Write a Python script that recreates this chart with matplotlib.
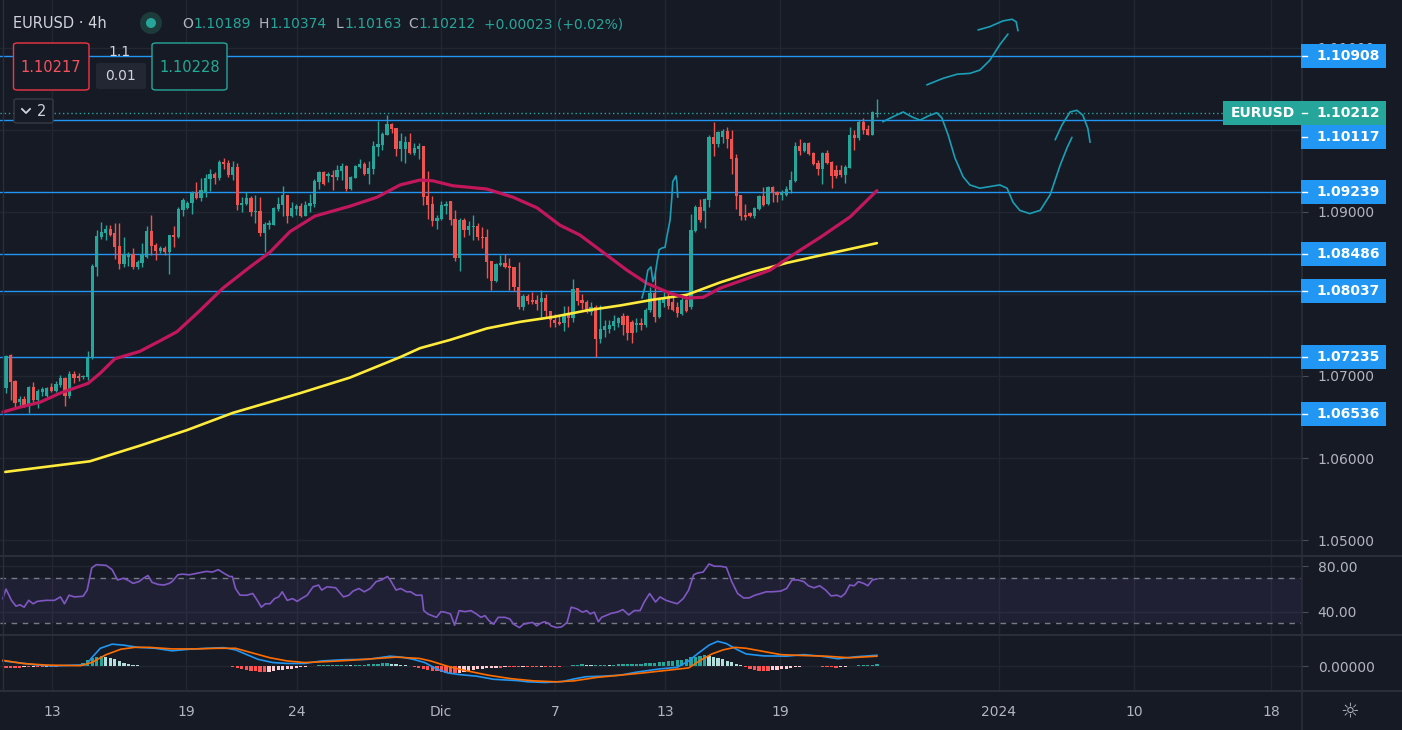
import matplotlib
matplotlib.use("Agg")
import matplotlib.pyplot as plt
from matplotlib import patches, transforms
from matplotlib.lines import Line2D
import numpy as np

# ---------------- data (EURUSD 4h) ----------------
opens = [
    1.0685, 1.0726, 1.0694, 1.0668, 1.0672, 1.0665, 1.0687, 1.0671, 1.0680, 1.0676,
    1.0687, 1.0682, 1.0689, 1.0698, 1.0676, 1.0702, 1.0700, 1.0699, 1.0699, 1.0722,
    1.0833, 1.0870, 1.0874, 1.0879, 1.0874, 1.0858, 1.0836, 1.0845, 1.0849, 1.0833,
    1.0838, 1.0845, 1.0877, 1.0860, 1.0852, 1.0856, 1.0851, 1.0872, 1.0870, 1.0902,
    1.0905, 1.0911, 1.0923, 1.0917, 1.0924, 1.0940, 1.0946, 1.0941, 1.0961, 1.0960,
    1.0945, 1.0955, 1.0908, 1.0910, 1.0917, 1.0900, 1.0901, 1.0874, 1.0884, 1.0884,
    1.0904, 1.0908, 1.0921, 1.0895, 1.0904, 1.0907, 1.0895, 1.0907, 1.0910, 1.0937,
    1.0949, 1.0944, 1.0945, 1.0943, 1.0950, 1.0956, 1.0928, 1.0941, 1.0955, 1.0958,
    1.0946, 1.0952, 1.0979, 1.0982, 1.0994, 1.1007, 1.1002, 1.0977, 1.0977, 1.0985,
    1.0972, 1.0977, 1.0980, 1.0920, 1.0910, 1.0889, 1.0891, 1.0907, 1.0913, 1.0891,
    1.0844, 1.0890, 1.0878, 1.0882, 1.0883, 1.0870, 1.0870, 1.0840, 1.0816, 1.0835,
    1.0838, 1.0834, 1.0833, 1.0809, 1.0784, 1.0798, 1.0793, 1.0793, 1.0790, 1.0795,
    1.0779, 1.0768, 1.0766, 1.0765, 1.0774, 1.0771, 1.0807, 1.0793, 1.0790, 1.0778,
    1.0784, 1.0745, 1.0756, 1.0757, 1.0761, 1.0765, 1.0773, 1.0773, 1.0766, 1.0762,
    1.0765, 1.0762, 1.0780, 1.0801, 1.0772, 1.0789, 1.0796, 1.0790, 1.0784, 1.0776,
    1.0793, 1.0784, 1.0877, 1.0906, 1.0901, 1.0915, 1.0991, 1.0983, 1.0991, 1.0999,
    1.0989, 1.0966, 1.0921, 1.0896, 1.0899, 1.0895, 1.0904, 1.0920, 1.0910, 1.0930,
    1.0924, 1.0921, 1.0921, 1.0927, 1.0938, 1.0980, 1.0974, 1.0984, 1.0972, 1.0960,
    1.0952, 1.0972, 1.0961, 1.0951, 1.0951, 1.0945, 1.0954, 1.0994, 1.0990, 1.1010,
    1.1001, 1.0994, 1.10189,
]
highs = [
    1.0726, 1.0727, 1.0695, 1.0676, 1.0676, 1.0688, 1.0693, 1.0684, 1.0687, 1.0687,
    1.0691, 1.0694, 1.0701, 1.0699, 1.0706, 1.0706, 1.0704, 1.0701, 1.0730, 1.0837,
    1.0878, 1.0888, 1.0884, 1.0884, 1.0886, 1.0886, 1.0870, 1.0851, 1.0856, 1.0842,
    1.0862, 1.0883, 1.0896, 1.0862, 1.0858, 1.0858, 1.0872, 1.0883, 1.0906, 1.0917,
    1.0913, 1.0926, 1.0937, 1.0941, 1.0946, 1.0952, 1.0949, 1.0963, 1.0966, 1.0963,
    1.0962, 1.0960, 1.0918, 1.0924, 1.0920, 1.0921, 1.0918, 1.0888, 1.0890, 1.0906,
    1.0918, 1.0932, 1.0921, 1.0912, 1.0910, 1.0911, 1.0913, 1.0922, 1.0940, 1.0950,
    1.0950, 1.0949, 1.0951, 1.0957, 1.0960, 1.0957, 1.0944, 1.0957, 1.0965, 1.0961,
    1.0962, 1.0987, 1.1011, 1.0998, 1.1018, 1.1009, 1.1002, 1.0996, 1.0993, 1.0996,
    1.0984, 1.0984, 1.0980, 1.0950, 1.0920, 1.0896, 1.0913, 1.0913, 1.0913, 1.0902,
    1.0893, 1.0893, 1.0889, 1.0896, 1.0886, 1.0882, 1.0879, 1.0840, 1.0838, 1.0848,
    1.0849, 1.0844, 1.0833, 1.0839, 1.0800, 1.0800, 1.0802, 1.0799, 1.0805, 1.0800,
    1.0779, 1.0776, 1.0774, 1.0785, 1.0785, 1.0818, 1.0807, 1.0800, 1.0793, 1.0790,
    1.0787, 1.0787, 1.0768, 1.0768, 1.0774, 1.0772, 1.0777, 1.0774, 1.0768, 1.0771,
    1.0771, 1.0783, 1.0808, 1.0826, 1.0796, 1.0802, 1.0802, 1.0796, 1.0790, 1.0796,
    1.0799, 1.0898, 1.0908, 1.0916, 1.0917, 1.0994, 1.1010, 1.0999, 1.1001, 1.1004,
    1.1000, 1.0971, 1.0921, 1.0910, 1.0900, 1.0906, 1.0921, 1.0930, 1.0932, 1.0932,
    1.0926, 1.0927, 1.0932, 1.0950, 1.0985, 1.0989, 1.0985, 1.0985, 1.0973, 1.0963,
    1.0973, 1.0976, 1.0962, 1.0957, 1.0957, 1.0957, 1.1004, 1.1000, 1.1012, 1.1015,
    1.1006, 1.1023, 1.10374,
]
lows = [
    1.0679, 1.0671, 1.0661, 1.0662, 1.0662, 1.0655, 1.0668, 1.0661, 1.0676, 1.0674,
    1.0680, 1.0680, 1.0687, 1.0664, 1.0673, 1.0691, 1.0694, 1.0696, 1.0695, 1.0721,
    1.0822, 1.0867, 1.0866, 1.0871, 1.0843, 1.0831, 1.0833, 1.0834, 1.0831, 1.0831,
    1.0833, 1.0844, 1.0847, 1.0842, 1.0850, 1.0848, 1.0824, 1.0857, 1.0868, 1.0895,
    1.0904, 1.0898, 1.0916, 1.0914, 1.0918, 1.0926, 1.0934, 1.0939, 1.0952, 1.0943,
    1.0939, 1.0902, 1.0900, 1.0908, 1.0895, 1.0887, 1.0871, 1.0851, 1.0879, 1.0884,
    1.0901, 1.0895, 1.0887, 1.0894, 1.0896, 1.0894, 1.0895, 1.0900, 1.0906, 1.0928,
    1.0933, 1.0936, 1.0927, 1.0939, 1.0939, 1.0926, 1.0927, 1.0941, 1.0954, 1.0945,
    1.0934, 1.0946, 1.0968, 1.0976, 1.0994, 1.0996, 1.0968, 1.0962, 1.0960, 1.0971,
    1.0969, 1.0965, 1.0909, 1.0892, 1.0883, 1.0879, 1.0890, 1.0898, 1.0884, 1.0840,
    1.0828, 1.0870, 1.0872, 1.0866, 1.0866, 1.0856, 1.0819, 1.0805, 1.0815, 1.0834,
    1.0832, 1.0805, 1.0804, 1.0782, 1.0781, 1.0788, 1.0788, 1.0781, 1.0772, 1.0772,
    1.0760, 1.0760, 1.0762, 1.0755, 1.0760, 1.0766, 1.0787, 1.0782, 1.0777, 1.0774,
    1.0723, 1.0740, 1.0748, 1.0752, 1.0756, 1.0760, 1.0750, 1.0744, 1.0740, 1.0754,
    1.0756, 1.0760, 1.0778, 1.0766, 1.0771, 1.0784, 1.0782, 1.0779, 1.0772, 1.0774,
    1.0778, 1.0782, 1.0876, 1.0888, 1.0880, 1.0906, 1.0968, 1.0979, 1.0984, 1.0978,
    1.0946, 1.0904, 1.0890, 1.0890, 1.0894, 1.0893, 1.0902, 1.0907, 1.0908, 1.0912,
    1.0912, 1.0915, 1.0919, 1.0923, 1.0937, 1.0969, 1.0973, 1.0969, 1.0957, 1.0945,
    1.0934, 1.0958, 1.0929, 1.0941, 1.0943, 1.0935, 1.0954, 1.0976, 1.0988, 1.0995,
    1.0994, 1.0994, 1.10163,
]
closes = [
    1.0724, 1.0693, 1.0667, 1.0672, 1.0665, 1.0687, 1.0671, 1.0682, 1.0684, 1.0685,
    1.0682, 1.0690, 1.0698, 1.0676, 1.0702, 1.0698, 1.0698, 1.0700, 1.0722, 1.0834,
    1.0871, 1.0876, 1.0879, 1.0872, 1.0857, 1.0836, 1.0847, 1.0849, 1.0833, 1.0839,
    1.0847, 1.0877, 1.0858, 1.0852, 1.0856, 1.0851, 1.0872, 1.0870, 1.0904, 1.0915,
    1.0911, 1.0923, 1.0917, 1.0927, 1.0941, 1.0946, 1.0941, 1.0961, 1.0958, 1.0945,
    1.0955, 1.0908, 1.0911, 1.0917, 1.0900, 1.0901, 1.0874, 1.0885, 1.0886, 1.0905,
    1.0910, 1.0921, 1.0895, 1.0905, 1.0907, 1.0895, 1.0908, 1.0911, 1.0938, 1.0949,
    1.0934, 1.0946, 1.0943, 1.0951, 1.0956, 1.0928, 1.0943, 1.0956, 1.0958, 1.0946,
    1.0954, 1.0980, 1.0983, 1.0995, 1.1007, 1.1001, 1.0977, 1.0987, 1.0985, 1.0972,
    1.0978, 1.0980, 1.0918, 1.0909, 1.0889, 1.0893, 1.0908, 1.0910, 1.0890, 1.0844,
    1.0890, 1.0878, 1.0883, 1.0883, 1.0870, 1.0868, 1.0839, 1.0816, 1.0837, 1.0838,
    1.0833, 1.0832, 1.0808, 1.0784, 1.0798, 1.0791, 1.0790, 1.0788, 1.0795, 1.0779,
    1.0768, 1.0765, 1.0763, 1.0774, 1.0771, 1.0806, 1.0791, 1.0789, 1.0778, 1.0784,
    1.0745, 1.0757, 1.0761, 1.0762, 1.0767, 1.0771, 1.0762, 1.0752, 1.0752, 1.0765,
    1.0762, 1.0780, 1.0801, 1.0772, 1.0793, 1.0795, 1.0785, 1.0780, 1.0777, 1.0793,
    1.0779, 1.0878, 1.0906, 1.0890, 1.0916, 1.0991, 1.0983, 1.0998, 1.0999, 1.0989,
    1.0965, 1.0919, 1.0895, 1.0894, 1.0895, 1.0905, 1.0920, 1.0908, 1.0930, 1.0923,
    1.0921, 1.0923, 1.0928, 1.0939, 1.0980, 1.0974, 1.0984, 1.0971, 1.0958, 1.0952,
    1.0972, 1.0960, 1.0944, 1.0944, 1.0945, 1.0955, 1.0994, 1.0990, 1.1010, 1.1000,
    1.0994, 1.1022, 1.10212,
]

# moving averages (bar index, price)
ma_fast_x = [-0.7, 3.1, 7.5, 11.9, 18.1, 20.7, 24.0, 29.5, 34.0, 37.7,
             42.8, 47.8, 53.8, 58.2, 62.6, 68.1, 75.8, 81.8, 86.9, 91.3,
             94.1, 98.5, 106.0, 111.8, 117.1, 122.1, 126.5, 131.6, 136.9, 141.3,
             146.4, 150.1, 153.7, 157.4, 162.5, 168.4, 174.4, 179.5, 186.1, 192.0]
ma_fast = [1.0656, 1.0662, 1.0668, 1.0679, 1.0691, 1.0703, 1.0721, 1.0730, 1.0743, 1.0754,
           1.0780, 1.0807, 1.0833, 1.0851, 1.0876, 1.0895, 1.0907, 1.0918, 1.0933, 1.0939,
           1.0938, 1.0932, 1.0928, 1.0918, 1.0905, 1.0884, 1.0872, 1.0851, 1.0829, 1.0813,
           1.0801, 1.0795, 1.0796, 1.0807, 1.0817, 1.0829, 1.0851, 1.0869, 1.0894, 1.0926]
ma_slow_x = [-0.2, 18.5, 29.5, 39.9, 50.0, 64.8, 75.8, 86.9, 91.3, 97.9, 106.0, 113.3,
             120.6, 128.1, 135.4, 142.6, 150.1, 157.4, 164.7, 172.2, 179.5, 185.4, 192.0]
ma_slow = [1.0583, 1.0596, 1.0615, 1.0634, 1.0655, 1.0679, 1.0698, 1.0723, 1.0734, 1.0744,
           1.0758, 1.0766, 1.0772, 1.0780, 1.0786, 1.0793, 1.0799, 1.0814, 1.0827, 1.0838,
           1.0847, 1.0854, 1.0862]

# hand-drawn projections (bar index, price)
proj_left_x = [140.2, 140.9, 141.5, 142.2, 142.6, 143.1, 143.5, 144.0, 144.6, 145.3,
               145.7, 146.4, 146.8, 147.0, 147.7, 147.9, 148.1]
proj_left_y = [1.0795, 1.0809, 1.0829, 1.0833, 1.0815, 1.0823, 1.0838, 1.0854, 1.0856, 1.0857,
               1.0870, 1.0890, 1.0918, 1.0937, 1.0944, 1.0937, 1.0918]
proj_up_x = [203.0, 206.6, 209.7, 212.5, 214.7, 216.9, 219.1, 220.9]
proj_up_y = [1.1055, 1.1063, 1.1068, 1.1069, 1.1073, 1.1085, 1.1104, 1.1117]
proj_hook_x = [214.3, 216.9, 219.8, 221.8, 222.7, 223.1]
proj_hook_y = [1.1122, 1.1126, 1.1133, 1.1135, 1.1132, 1.1121]
proj_path_x = [193.3, 195.5, 197.8, 199.7, 201.5, 203.3, 205.2, 206.3, 207.7, 209.2,
               211.0, 212.5, 214.7, 219.1, 220.7, 222.0, 223.5, 225.7, 228.0, 230.2,
               232.4, 233.9, 235.0]
proj_path_y = [1.1010, 1.1016, 1.1022, 1.1016, 1.1012, 1.1017, 1.1021, 1.1015, 1.0994, 1.0966,
               1.0943, 1.0933, 1.0929, 1.0933, 1.0929, 1.0912, 1.0902, 1.0898, 1.0902, 1.0921,
               1.0957, 1.0978, 1.0991]
proj_arc_x = [231.3, 232.8, 234.6, 236.1, 237.4, 238.5, 239.0]
proj_arc_y = [1.0988, 1.1006, 1.1022, 1.1024, 1.1018, 1.1002, 1.0985]

# RSI
rsi_x = [-0.7, 0.0, 1.2, 2.2, 3.1, 4.0, 5.0, 6.0, 6.9, 8.8,
         10.7, 12.0, 12.9, 13.9, 15.1, 17.0, 17.9, 18.9, 19.9, 22.1,
         23.4, 24.6, 25.9, 27.2, 28.0, 29.3, 30.3, 31.3, 32.2, 33.5,
         34.8, 36.0, 36.6, 37.9, 38.9, 40.4, 42.3, 44.2, 45.5, 46.8,
         48.0, 49.3, 49.9, 50.6, 51.6, 53.1, 54.4, 55.4, 56.3, 57.2,
         58.2, 59.2, 60.1, 60.9, 62.0, 63.2, 64.2, 65.1, 66.4, 67.7,
         68.9, 69.6, 70.8, 72.7, 74.4, 75.6, 76.5, 77.8, 79.0, 80.3,
         81.6, 82.8, 84.1, 84.7, 86.0, 87.0, 88.3, 89.2, 90.4, 91.7,
         92.1, 93.0, 93.9, 94.9, 95.9, 96.8, 98.0, 98.9, 99.9, 101.2,
         102.5, 103.7, 104.7, 105.6, 106.5, 107.5, 108.5, 110.0, 111.1, 111.9,
         113.2, 114.1, 115.1, 116.1, 117.0, 117.9, 118.7, 119.5, 120.2, 121.4,
         122.5, 123.7, 124.6, 125.9, 127.1, 128.0, 128.8, 129.7, 130.6, 131.3,
         132.2, 133.5, 134.7, 136.0, 137.3, 138.5, 139.8, 140.7, 141.9, 143.2,
         144.2, 145.5, 146.7, 148.0, 149.3, 150.5, 151.6, 152.4, 153.7, 155.0,
         156.2, 157.5, 158.8, 160.0, 161.3, 162.6, 163.8, 165.1, 166.4, 167.6,
         168.9, 170.8, 172.1, 173.3, 174.6, 175.9, 176.9, 178.1, 179.4, 180.7,
         181.9, 183.2, 184.1, 185.0, 186.0, 187.0, 187.9, 189.1, 190.0, 191.0,
         192.0]
rsi_vals = [51.5, 59.9, 50.0, 44.9, 46.1, 44.0, 50.0, 47.0, 49.1, 50.0,
            50.0, 53.0, 47.0, 54.5, 53.0, 53.6, 59.0, 78.4, 81.3, 80.7,
            76.9, 67.9, 69.4, 67.0, 64.9, 66.4, 69.4, 71.8, 65.8, 64.0,
            63.4, 64.9, 66.4, 72.4, 73.0, 72.4, 73.9, 75.4, 74.8, 76.9,
            73.9, 70.9, 70.9, 60.4, 54.5, 54.5, 56.0, 50.0, 44.0, 47.0,
            47.0, 51.5, 53.0, 57.5, 50.0, 51.5, 49.1, 51.5, 54.5, 61.9,
            63.4, 59.0, 61.9, 61.0, 53.0, 54.5, 58.1, 60.4, 57.5, 60.4,
            66.4, 67.9, 70.9, 67.9, 59.0, 60.4, 57.5, 57.5, 54.5, 54.5,
            41.0, 38.1, 36.6, 35.1, 40.1, 39.6, 38.1, 28.2, 41.0, 40.1,
            41.0, 38.1, 35.1, 36.6, 32.1, 29.1, 35.1, 35.1, 33.6, 29.1,
            26.1, 29.1, 30.0, 30.6, 27.6, 30.0, 31.2, 30.0, 27.6, 26.1,
            26.7, 30.6, 44.0, 42.5, 39.6, 41.0, 38.1, 39.6, 31.2, 35.1,
            36.6, 38.7, 39.6, 41.9, 37.2, 41.0, 41.0, 48.5, 56.0, 48.5,
            53.0, 50.0, 48.5, 47.0, 51.5, 59.0, 72.4, 73.9, 74.8, 81.9,
            79.9, 79.9, 79.0, 66.4, 56.0, 52.1, 52.1, 54.5, 56.0, 57.5,
            57.5, 58.1, 60.4, 67.9, 67.9, 66.4, 62.8, 61.0, 62.8, 59.0,
            53.9, 54.5, 53.0, 56.0, 63.4, 62.8, 66.4, 64.9, 62.8, 67.9,
            68.8]

# MACD, in units of 1e-5
macd_x = [-0.7, 2.5, 6.3, 10.1, 17.7, 18.9, 20.8, 23.4, 25.9, 29.1,
          32.9, 36.6, 40.4, 44.2, 48.0, 50.6, 53.1, 55.6, 58.8, 62.0,
          65.8, 69.6, 74.6, 79.7, 84.7, 87.3, 89.8, 92.3, 94.9, 97.4,
          99.9, 103.7, 107.5, 110.0, 112.6, 115.1, 118.9, 122.7, 125.2, 127.8,
          131.6, 135.4, 139.2, 144.2, 148.0, 150.5, 152.4, 155.0, 156.9, 158.8,
          161.3, 163.2, 167.0, 172.1, 175.9, 179.7, 183.4, 187.2, 192.0]
macd_line = [68, 48, 20, 4, 20, 108, 228, 280, 268, 240,
             228, 196, 216, 228, 236, 208, 148, 88, 48, 36,
             36, 68, 84, 88, 128, 116, 88, 48, -32, -84,
             -104, -124, -164, -172, -180, -196, -204, -192, -160, -132,
             -124, -112, -72, -32, -12, 68, 156, 268, 316, 288,
             208, 156, 132, 128, 148, 128, 96, 120, 140]
signal_x = [-0.7, 3.7, 8.8, 16.4, 18.9, 22.1, 25.3, 28.4, 31.6, 36.6,
            41.7, 46.8, 50.6, 54.4, 58.2, 62.0, 65.8, 70.8, 75.9, 80.9,
            86.0, 91.1, 93.6, 97.4, 101.2, 106.3, 111.3, 116.4, 121.4, 125.2,
            130.3, 135.4, 140.4, 145.5, 150.5, 153.1, 155.6, 158.1, 160.7, 163.2,
            167.0, 170.8, 175.9, 180.9, 186.0, 192.0]
signal_line = [76, 36, 16, 8, 48, 148, 216, 240, 240, 220,
               220, 228, 228, 168, 108, 68, 48, 60, 76, 96,
               116, 100, 68, 0, -52, -112, -156, -184, -196, -184,
               -140, -112, -84, -52, -20, 76, 156, 208, 240, 228,
               188, 148, 136, 128, 108, 128]
macd_hist = [
    -16, -16, -16, -16, -12, -12, -8, -8, -8, -4,
    -4, -4, 0, 0, 0, 0, 16, 48, 80, 104,
    120, 128, 120, 104, 88, 72, 48, 32, 20, 12,
    8, 4, 4, 8, 8, 8, 8, 4, 8, 8,
    8, 4, 8, 8, 4, 8, 8, 4, 4, 4,
    -4, -16, -32, -48, -56, -64, -72, -72, -68, -60,
    -52, -44, -36, -28, -20, -12, -4, 4, 8, 12,
    12, 12, 12, 16, 16, 16, 12, 16, 20, 20,
    24, 28, 32, 36, 40, 32, 24, 16, 12, 4,
    -4, -16, -32, -44, -56, -64, -72, -80, -88, -88,
    -80, -68, -56, -44, -36, -28, -24, -20, -16, -16,
    -12, -12, -12, -12, -8, -8, -8, -8, -4, -4,
    -4, -4, -4, 0, 4, 16, 20, 24, 20, 16,
    20, 20, 20, 16, 20, 24, 24, 28, 28, 32,
    32, 36, 40, 48, 56, 60, 68, 72, 80, 84,
    96, 112, 120, 132, 140, 136, 124, 108, 88, 72,
    52, 32, 12, -12, -32, -48, -56, -60, -60, -52,
    -44, -36, -28, -20, -12, -4, 4, 8, 8, 4,
    -4, -8, -12, -16, -12, -8, 4, 8, 12, 16,
    16, 20, 24,
]

date_pos = [10.1, 39.7, 64.2, 95.9, 121.0, 145.3, 170.6, 218.9, 248.7, 278.9]
date_labels = ["13", "19", "24", "Dic", "7", "13", "19", "2024", "10", "18"]
price_ticks = [1.05, 1.06, 1.07, 1.08, 1.09, 1.10, 1.11]
# 1.08000 and 1.10000 sit fully under the level tags in the original
price_tick_labels = ["1.05000", "1.06000", "1.07000", "", "1.09000", "", "1.11000"]
levels = [1.10908, 1.10117, 1.09239, 1.08486, 1.08037, 1.07235, 1.06536]
last_price = 1.10212

# ---------------- style ----------------
W, H = 1402, 730
BG = "#161a25"
GRID = "#222631"
SEP = "#2a2e39"
TXT = "#b2b5be"
UP = "#26a69a"
DOWN = "#ef5350"
LEVEL = "#2196f3"
SKETCH = "#1a9fb6"
plt.rcParams["font.family"] = ["DejaVu Sans"]

fig = plt.figure(figsize=(W / 100, H / 100), dpi=100)
fig.patch.set_facecolor(BG)


def fx(x):
    return x / W


def fy(y):
    return 1 - y / H


def add_panel(top, bottom):
    a = fig.add_axes([0, 1 - bottom / H, 1301 / W, (bottom - top) / H])
    a.set_facecolor(BG)
    for s in a.spines.values():
        s.set_visible(False)
    a.set_xlim(-1.32, 285.5)
    a.set_xticks(date_pos)
    a.tick_params(axis="x", length=0, labelbottom=False)
    a.yaxis.tick_right()
    a.tick_params(axis="y", length=5, color="#4a4e5a", labelcolor=TXT,
                  labelsize=10, pad=7)
    a.grid(True, color=GRID, lw=1)
    a.set_axisbelow(True)
    return a


ax = add_panel(0, 556)
ax_rsi = add_panel(556, 635)
ax_macd = add_panel(635, 691)

# ---------------- price panel ----------------
ax.set_ylim(1.04805, 1.11585)
ax.set_yticks(price_ticks)
ax.set_yticklabels(price_tick_labels)

for lv in levels:
    ax.axhline(lv, color=LEVEL, lw=1, zorder=2)
ax.axhline(last_price, color=UP, lw=1, ls=(0, (1, 2)), zorder=2)

o = np.array(opens)
h = np.array(highs)
l = np.array(lows)
c = np.array(closes)
idx = np.arange(len(c))
col = np.where(c >= o, UP, DOWN)
ax.vlines(idx, l, h, colors=col, lw=1, zorder=3)
ax.bar(idx, np.maximum(np.abs(c - o), 0.00004), bottom=np.minimum(o, c),
       width=0.72, color=col, lw=0, zorder=4)

ax.plot(ma_slow_x, ma_slow, color="#ffeb3b", lw=1.9, zorder=5,
        solid_capstyle="round")
ax.plot(ma_fast_x, ma_fast, color="#c2185b", lw=2.3, zorder=5,
        solid_capstyle="round")

for xs, ys in [(proj_left_x, proj_left_y), (proj_up_x, proj_up_y),
               (proj_hook_x, proj_hook_y), (proj_path_x, proj_path_y),
               (proj_arc_x, proj_arc_y)]:
    ax.plot(xs, ys, color=SKETCH, lw=1.2, zorder=6, solid_capstyle="round",
            solid_joinstyle="round")

# ---------------- RSI ----------------
ax_rsi.set_ylim(19.6, 88.9)
ax_rsi.set_yticks([80, 40])
ax_rsi.set_yticklabels(["80.00", "40.00"])
ax_rsi.axhspan(30, 70, color="#7e57c2", alpha=0.1, lw=0)
ax_rsi.axhline(70, color="#787b86", lw=1, ls=(0, (4, 4)))
ax_rsi.axhline(30, color="#787b86", lw=1, ls=(0, (4, 4)))
ax_rsi.plot(rsi_x, rsi_vals, color="#7e57c2", lw=1.2)

# ---------------- MACD ----------------
unit = 1e-5
ax_macd.set_ylim(-312 * unit, 396 * unit)
ax_macd.set_yticks([0])
ax_macd.set_yticklabels(["0.00000"])
hist = np.array(macd_hist) * unit
prev = np.concatenate([[hist[0]], hist[:-1]])
hcol = []
for v, p in zip(hist, prev):
    if v >= 0:
        hcol.append("#26a69a" if v >= p else "#b2dfdb")
    else:
        hcol.append("#ffcdd2" if v > p else "#ff5252")
ax_macd.bar(idx, hist, width=0.72, color=hcol, lw=0, zorder=2)
ax_macd.plot(macd_x, np.array(macd_line) * unit, color="#2196f3", lw=1.2, zorder=3)
ax_macd.plot(signal_x, np.array(signal_line) * unit, color="#ff6d00", lw=1.2, zorder=3)
ax_macd.set_xticklabels(date_labels)
ax_macd.tick_params(axis="x", labelbottom=True, labelcolor=TXT, labelsize=10, pad=10)

# ---------------- separators ----------------
for y in (556, 635, 691):
    fig.add_artist(Line2D([0, 1], [fy(y), fy(y)], color=SEP, lw=1.5, zorder=5))
fig.add_artist(Line2D([fx(1301.5), fx(1301.5)], [0, 1], color=SEP, lw=1.2, zorder=5))
fig.add_artist(Line2D([fx(2.5), fx(2.5)], [fy(691), 1], color=SEP, lw=1, zorder=5))

# ---------------- right-hand price tags ----------------
tag_tr = transforms.blended_transform_factory(fig.transFigure, ax.transData)
half = (1.11585 - 1.04805) * 12 / 556


def price_tag(price, color, shift_px=0, x0=1301, name=None):
    tr = tag_tr + transforms.ScaledTranslation(0, -shift_px / 100, fig.dpi_scale_trans)
    fig.add_artist(patches.Rectangle((fx(x0), price - half), fx(1386 - x0), 2 * half,
                                     transform=tr, facecolor=color, edgecolor="none",
                                     zorder=20))
    fig.add_artist(Line2D([fx(1302), fx(1307)], [price, price], transform=tr,
                          color="white", lw=1, zorder=21))
    fig.text(fx(1316), price, f"{price:.5f}", transform=tr, color="white",
             fontsize=10, fontweight="bold", ha="left", va="center", zorder=21)
    if name:
        fig.text(fx(1231), price, name, transform=tr, color="white",
                 fontsize=10, fontweight="bold", ha="left", va="center", zorder=21)


for lv in levels:
    price_tag(lv, LEVEL, shift_px=17 if lv == 1.10117 else 0)
price_tag(last_price, UP, x0=1223, name="EURUSD")

# ---------------- legend block, top left ----------------
fig.text(fx(13), fy(24), "EURUSD · 4h", color="#d1d4dc", fontsize=10.5,
         ha="left", va="center")
fig.add_artist(patches.Ellipse((fx(151), fy(23)), fx(22), 22 / H, facecolor="#1d3b3a",
                               edgecolor="none"))
fig.add_artist(patches.Ellipse((fx(151), fy(23)), fx(10), 10 / H, facecolor=UP,
                               edgecolor="none"))
ohlc = [("O", 182, 193, "1.10189"), ("H", 259, 269.5, "1.10374"),
        ("L", 336, 344, "1.10163"), ("C", 408, 418, "1.10212")]
for letter, xl, xv, val in ohlc:
    fig.text(fx(xl), fy(24), letter, color=TXT, fontsize=10, ha="left", va="center")
    fig.text(fx(xv), fy(24), val, color=UP, fontsize=10, ha="left", va="center")
fig.text(fx(484), fy(24), "+0.00023 (+0.02%)", color=UP, fontsize=10,
         ha="left", va="center")

fig.add_artist(patches.FancyBboxPatch((fx(13.5), fy(90)), fx(75.5), 47 / H,
                                      boxstyle="round,pad=0,rounding_size=0.003",
                                      facecolor=BG, edgecolor="#f23645", lw=1, zorder=6))
fig.text(fx(51), fy(67), "1.10217", color="#f7525f", fontsize=10.5,
         ha="center", va="center", zorder=7)
fig.add_artist(patches.FancyBboxPatch((fx(152), fy(90)), fx(75), 47 / H,
                                      boxstyle="round,pad=0,rounding_size=0.003",
                                      facecolor=BG, edgecolor=UP, lw=1, zorder=6))
fig.text(fx(189.5), fy(67), "1.10228", color="#22ab94", fontsize=10.5,
         ha="center", va="center", zorder=7)
fig.add_artist(patches.FancyBboxPatch((fx(96), fy(89)), fx(50), 26 / H,
                                      boxstyle="round,pad=0,rounding_size=0.002",
                                      facecolor="#232733", edgecolor="none", zorder=6))
fig.text(fx(121), fy(76), "0.01", color="#d1d4dc", fontsize=10,
         ha="center", va="center", zorder=7)
fig.text(fx(119), fy(52), "1.1", color="#d1d4dc", fontsize=10,
         ha="center", va="center", zorder=7)

fig.add_artist(patches.FancyBboxPatch((fx(14), fy(123)), fx(39), 24 / H,
                                      boxstyle="round,pad=0,rounding_size=0.002",
                                      facecolor=BG, edgecolor="#363a45", lw=1, zorder=6))
fig.add_artist(Line2D([fx(22), fx(26), fx(30)], [fy(109), fy(113), fy(109)],
                      color="#d1d4dc", lw=1.3, zorder=7))
fig.text(fx(42), fy(111), "2", color="#d1d4dc", fontsize=10.5,
         ha="center", va="center", zorder=7)

fig.text(fx(1350), fy(711), "☼", color=TXT, fontsize=15, ha="center", va="center")

fig.savefig("out.png", dpi=100, facecolor=BG)
